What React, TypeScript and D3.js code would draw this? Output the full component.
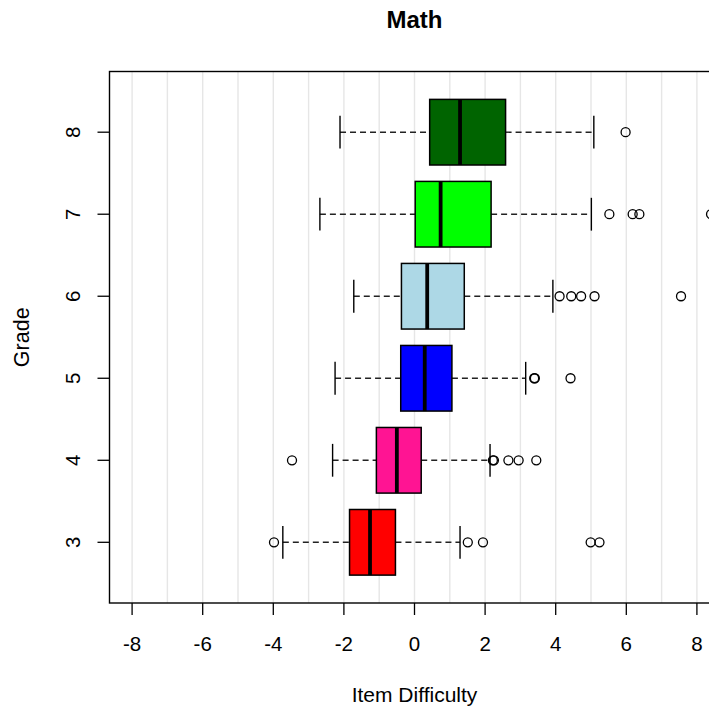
import React from 'react'
import * as d3 from 'd3'

// boxplot summary per grade
const GRADES = ['3', '4', '5', '6', '7', '8']
const COLORS = ['#ff0000', '#ff1493', '#0000ff', '#add8e6', '#00ff00', '#006400']
const WHISKER_LO = [-3.73, -2.32, -2.25, -1.72, -2.68, -2.11]
const Q1 = [-1.84, -1.08, -0.39, -0.37, 0.02, 0.43]
const MEDIAN = [-1.26, -0.5, 0.29, 0.36, 0.74, 1.29]
const Q3 = [-0.54, 0.19, 1.06, 1.41, 2.17, 2.58]
const WHISKER_HI = [1.29, 2.14, 3.15, 3.92, 5.01, 5.08]
const OUTLIERS = [
  [-3.98, 1.51, 1.94, 4.99, 5.24],
  [-3.47, 2.22, 2.25, 2.66, 2.95, 3.45],
  [3.39, 3.41, 4.42],
  [4.11, 4.44, 4.72, 5.1, 7.55],
  [5.52, 6.18, 6.37, 8.4],
  [5.98]
]
const X_TICKS = [-8, -6, -4, -2, 0, 2, 4, 6, 8]
const GRID = d3.range(-8, 9)

const W = 709
const H = 708
const plot = { left: 109.5, right: 719.5, top: 71.5, bottom: 603 }
const FONT = '"Liberation Sans", Arial, Helvetica, sans-serif'

export default function App() {
  const x = d3.scaleLinear().domain([-8.64, 8.64]).range([plot.left, plot.right])
  const y = d3.scaleLinear().domain([0.26, 6.74]).range([plot.bottom, plot.top])
  const unit = Math.abs(y(1) - y(0))
  const halfBox = unit * 0.4
  const halfStaple = unit * 0.2

  const grid = GRID.map(v =>
    <line key={v} x1={x(v)} x2={x(v)} y1={plot.top} y2={plot.bottom}
      stroke="#e6e6e6" strokeWidth={1.4} />
  )

  const boxes = GRADES.map((g, i) => {
    const cy = y(i + 1)
    return (
      <g key={g}>
        <line x1={x(WHISKER_LO[i])} x2={x(Q1[i])} y1={cy} y2={cy}
          stroke="#222" strokeWidth={1.4} strokeDasharray="6,4" />
        <line x1={x(Q3[i])} x2={x(WHISKER_HI[i])} y1={cy} y2={cy}
          stroke="#222" strokeWidth={1.4} strokeDasharray="6,4" />
        <line x1={x(WHISKER_LO[i])} x2={x(WHISKER_LO[i])} y1={cy - halfStaple} y2={cy + halfStaple}
          stroke="#000" strokeWidth={1.4} />
        <line x1={x(WHISKER_HI[i])} x2={x(WHISKER_HI[i])} y1={cy - halfStaple} y2={cy + halfStaple}
          stroke="#000" strokeWidth={1.4} />
        <rect x={x(Q1[i])} y={cy - halfBox} width={x(Q3[i]) - x(Q1[i])} height={halfBox * 2}
          fill={COLORS[i]} stroke="#000" strokeWidth={1.5} />
        <line x1={x(MEDIAN[i])} x2={x(MEDIAN[i])} y1={cy - halfBox} y2={cy + halfBox}
          stroke="#000" strokeWidth={3.8} />
        {OUTLIERS[i].map((v, j) =>
          <circle key={j} cx={x(v)} cy={cy} r={4.5} fill="none" stroke="#000" strokeWidth={1.3} />
        )}
      </g>
    )
  })

  const xAxis = X_TICKS.map(t =>
    <g key={t}>
      <line x1={x(t)} x2={x(t)} y1={plot.bottom} y2={plot.bottom + 12} stroke="#000" strokeWidth={1.3} />
      <text x={x(t)} y={651} textAnchor="middle" fontSize={20.5} fontFamily={FONT}>{t}</text>
    </g>
  )

  const yAxis = GRADES.map((g, i) =>
    <g key={g}>
      <line x1={plot.left - 12} x2={plot.left} y1={y(i + 1)} y2={y(i + 1)} stroke="#000" strokeWidth={1.3} />
      <text transform={`translate(80,${y(i + 1)}) rotate(-90)`} textAnchor="middle"
        fontSize={20.5} fontFamily={FONT}>{g}</text>
    </g>
  )

  return (
    <svg width={W} height={H} style={{ position: 'absolute', left: 0, top: 0, background: '#fff' }}>
      <rect width={W} height={H} fill="#fff" />
      {grid}
      {boxes}
      <rect x={plot.left} y={plot.top} width={plot.right - plot.left} height={plot.bottom - plot.top}
        fill="none" stroke="#000" strokeWidth={1.4} />
      {xAxis}
      {yAxis}
      <text x={(plot.left + plot.right) / 2} y={28} textAnchor="middle" fontSize={24}
        fontWeight="bold" fontFamily={FONT}>Math</text>
      <text x={(plot.left + plot.right) / 2} y={701.5} textAnchor="middle" fontSize={21}
        fontFamily={FONT}>Item Difficulty</text>
      <text transform={`translate(29,${(plot.top + plot.bottom) / 2}) rotate(-90)`} textAnchor="middle"
        fontSize={21.5} fontFamily={FONT}>Grade</text>
    </svg>
  )
}
